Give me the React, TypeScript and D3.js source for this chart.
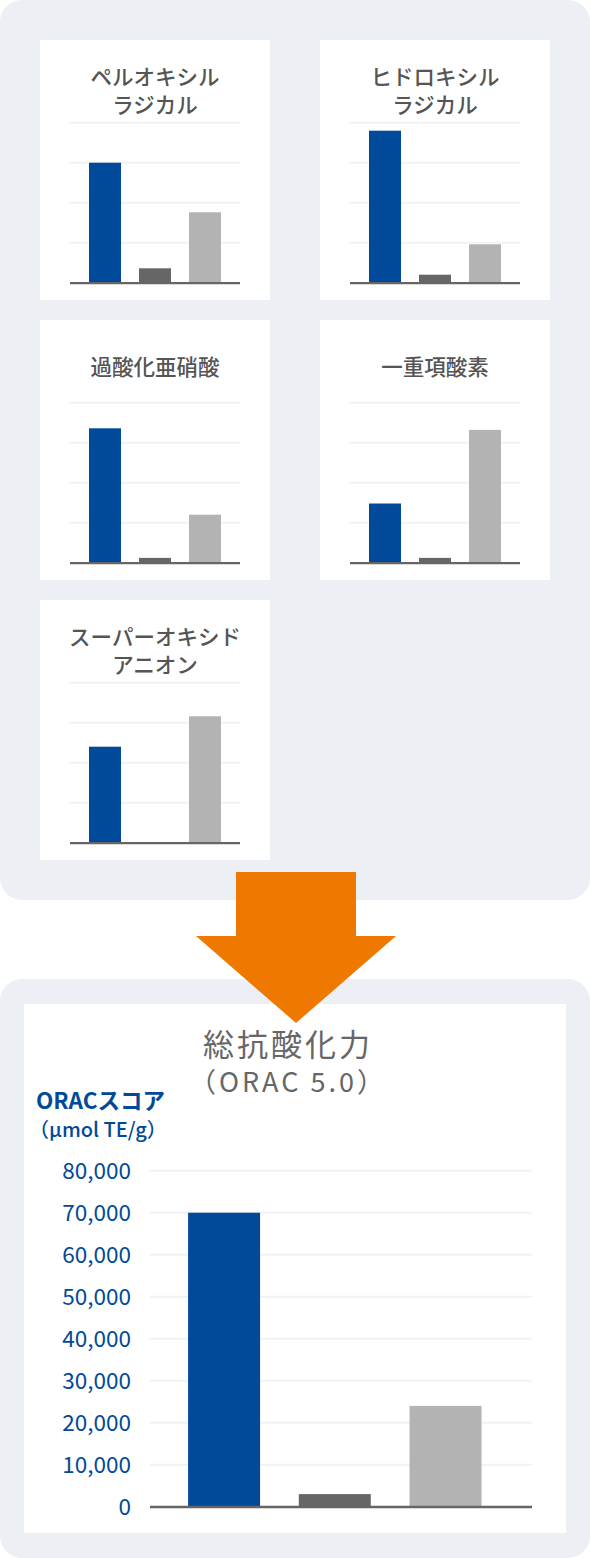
import React from "react";
import * as d3 from "d3";

// three products compared in every chart (no legend in the picture)
const products = ["sample", "compareA", "compareB"];
const productColors = ["#004a99", "#666666", "#b3b3b3"];

// small charts: relative strength against each radical (0-100)
const radicalTitles = [
  ["ペルオキシル", "ラジカル"],
  ["ヒドロキシル", "ラジカル"],
  ["過酸化亜硝酸"],
  ["一重項酸素"],
  ["スーパーオキシド", "アニオン"],
];
const sampleValues = [75, 95, 84, 37, 60];
const compareAValues: (number | null)[] = [9, 5, 3, 3, null];
const compareBValues = [44, 24, 30, 83, 79];
const smallTicks = [25, 50, 75, 100];

// total antioxidant capacity
const oracTitle = "総抗酸化力";
const oracSubtitle = "（ORAC 5.0）";
const oracAxisTitle = ["ORACスコア", "（µmol TE/g）"];
const oracValues = [70000, 3000, 24000];
const oracTicks = [0, 10000, 20000, 30000, 40000, 50000, 60000, 70000, 80000];

const FONT = "'Noto Sans CJK JP', 'Noto Sans', sans-serif";
const BG = "#eceff4";

interface PanelProps {
  x: number;
  y: number;
  title: string[];
  values: (number | null)[];
}

const SmallPanel = ({ x, y, title, values }: PanelProps) => {
  const w = 230,
    h = 260;
  const yScale = d3.scaleLinear().domain([0, 100]).range([y + 242.7, y + 82.7]);
  const xScale = d3
    .scaleBand()
    .domain(products)
    .range([x + 30, x + 200])
    .paddingInner(0.36)
    .paddingOuter(0.38);
  const titleTop = title.length > 1 ? y + 37 : y + 47;

  return (
    <g>
      <rect x={x} y={y} width={w} height={h} fill="#fff" />
      {title.map((line, i) => (
        <text
          key={i}
          x={x + w / 2}
          y={titleTop + i * 28}
          dy="0.35em"
          textAnchor="middle"
          fontFamily={FONT}
          fontSize={21.5}
          fontWeight={500}
          fill="#555"
        >
          {line}
        </text>
      ))}
      {smallTicks.map((t) => (
        <line
          key={t}
          x1={x + 30}
          x2={x + 200}
          y1={yScale(t)}
          y2={yScale(t)}
          stroke="#f1f2f4"
          strokeWidth={2}
        />
      ))}
      {values.map((v, i) =>
        v == null ? null : (
          <rect
            key={i}
            x={xScale(products[i])}
            y={yScale(v)}
            width={xScale.bandwidth()}
            height={yScale(0) - yScale(v)}
            fill={productColors[i]}
          />
        )
      )}
      <line
        x1={x + 30}
        x2={x + 200}
        y1={yScale(0) + 0.5}
        y2={yScale(0) + 0.5}
        stroke="#666"
        strokeWidth={2.2}
      />
    </g>
  );
};

const OracChart = () => {
  const yScale = d3.scaleLinear().domain([0, 80000]).range([1506.7, 1170.7]);
  const xScale = d3
    .scaleBand()
    .domain(products)
    .range([150, 532])
    .paddingInner(0.35)
    .paddingOuter(0.4)
    .align(0.43);
  const fmt = d3.format(",");

  return (
    <g>
      <rect x={0} y={979} width={590} height={579} rx={22} fill={BG} />
      <rect x={24} y={1004} width={542} height={529} fill="#fff" />
      <text
        x={288}
        y={1045}
        dy="0.35em"
        textAnchor="middle"
        fontFamily={FONT}
        fontSize={31}
        letterSpacing={3}
        fill="#666"
      >
        {oracTitle}
      </text>
      <text
        x={288}
        y={1083}
        dy="0.35em"
        textAnchor="middle"
        fontFamily={FONT}
        fontSize={27}
        letterSpacing={3}
        fill="#666"
      >
        {oracSubtitle}
      </text>
      <text
        x={36}
        y={1101}
        dy="0.35em"
        fontFamily={FONT}
        fontSize={22.5}
        fontWeight="bold"
        fill="#004a99"
      >
        {oracAxisTitle[0]}
      </text>
      <text
        x={29}
        y={1130}
        dy="0.35em"
        fontFamily={FONT}
        fontSize={20}
        fontWeight={500}
        fill="#004a99"
      >
        {oracAxisTitle[1]}
      </text>
      {oracTicks.map((t) => (
        <g key={t}>
          {t > 0 && (
            <line
              x1={150}
              x2={532}
              y1={yScale(t)}
              y2={yScale(t)}
              stroke="#f1f2f4"
              strokeWidth={2}
            />
          )}
          <text
            x={131}
            y={yScale(t)}
            dy="0.35em"
            textAnchor="end"
            fontFamily={FONT}
            fontSize={22.5}
            fill="#004a99"
          >
            {fmt(t)}
          </text>
        </g>
      ))}
      {oracValues.map((v, i) => (
        <rect
          key={i}
          x={xScale(products[i])}
          y={yScale(v)}
          width={xScale.bandwidth()}
          height={yScale(0) - yScale(v)}
          fill={productColors[i]}
        />
      ))}
      <line
        x1={150}
        x2={532}
        y1={yScale(0) + 0.3}
        y2={yScale(0) + 0.3}
        stroke="#666"
        strokeWidth={2.4}
      />
    </g>
  );
};

const panelPos = [
  [40, 40],
  [320, 40],
  [40, 320],
  [320, 320],
  [40, 600],
];

const App = () => {
  const arrow = d3.path();
  arrow.moveTo(236, 872);
  arrow.lineTo(356, 872);
  arrow.lineTo(356, 936);
  arrow.lineTo(396, 936);
  arrow.lineTo(296, 1023);
  arrow.lineTo(196, 936);
  arrow.lineTo(236, 936);
  arrow.closePath();

  return (
    <svg
      width={590}
      height={1558}
      style={{ position: "absolute", left: 0, top: 0, display: "block" }}
    >
      <rect x={0} y={0} width={590} height={900} rx={22} fill={BG} />
      {radicalTitles.map((title, i) => (
        <SmallPanel
          key={i}
          x={panelPos[i][0]}
          y={panelPos[i][1]}
          title={title}
          values={[sampleValues[i], compareAValues[i], compareBValues[i]]}
        />
      ))}
      <OracChart />
      <path d={arrow.toString()} fill="#ee7800" />
    </svg>
  );
};

export default App;
